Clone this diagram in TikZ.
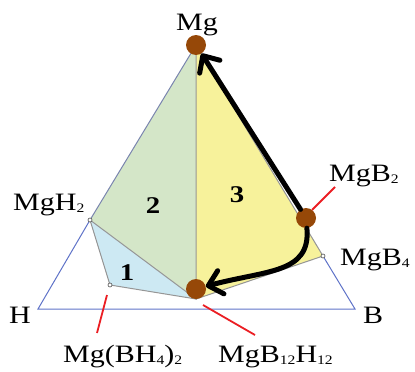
\documentclass[tikz,border=0pt]{standalone}
\usepackage{fontspec}
\setmainfont{Liberation Serif}
\usetikzlibrary{arrows.meta}
\definecolor{phgreen}{RGB}{212,230,200}
\definecolor{phblue}{RGB}{205,233,243}
\definecolor{phyellow}{RGB}{247,242,155}
\definecolor{dotbrown}{RGB}{150,72,8}
\definecolor{triblue}{RGB}{95,115,200}
\definecolor{seggray}{RGB}{150,150,150}
\definecolor{ldrred}{RGB}{235,30,35}
\newcommand{\sub}[1]{\raisebox{-0.2ex}{\fontsize{13}{13}\selectfont #1}}

\begin{document}
\begin{tikzpicture}[
  x=1pt, y=-1pt,
  lbl/.style={font=\fontsize{25}{27}\selectfont, inner sep=0pt, xscale=1.2},
  regnum/.style={font=\fontsize{24}{26}\selectfont\bfseries, inner sep=0pt, xscale=1.2},
  vx/.style={circle, draw=black!70, fill=white, inner sep=0pt, minimum size=4pt, line width=0.6pt},
  mdot/.style={circle, fill=dotbrown, inner sep=0pt, minimum size=20pt},
  seg/.style={seggray, line width=1pt},
  tri/.style={triblue, line width=1pt},
  ldr/.style={ldrred, line width=1.8pt},
  ar/.style={-{Straight Barb[length=13pt,width=24pt,round]}, line width=5pt, line cap=round}
]
\useasboundingbox (0,0) rectangle (415,372);

% Corners and phases
\coordinate (H) at (38,309);
\coordinate (B) at (355,309);
\coordinate (vmg) at (196,45);
\coordinate (vmgh) at (90,220);
\coordinate (vmgbh) at (110,285);
\coordinate (vb12) at (196,299);
\coordinate (vmgb4) at (323,256);

% Regions
\fill[phgreen] (vmg) -- (vmgh) -- (vb12) -- cycle;
\fill[phblue] (vmgh) -- (vmgbh) -- (vb12) -- cycle;
\fill[phyellow] (vmg) -- (vmgb4) -- (vb12) -- cycle;

% Edges
\draw[tri] (vmgh) -- (H) -- (B) -- (vmgb4);
\draw[seg, triblue!50!seggray] (vmg) -- (vmgh);
\draw[seg] (vmgh) -- (vb12) -- (vmg);
\draw[seg] (vmgh) -- (vmgbh) -- (vb12) -- (vmgb4) -- (vmg);

\node[vx] (pmgh) at (vmgh) {};
\node[vx] (pmgbh) at (vmgbh) {};
\node[vx] (pmgb4) at (vmgb4) {};

% Region numbers
\node[regnum, anchor=base] (n1) at (127,280) {1};
\node[regnum, anchor=base] (n2) at (153,213) {2};
\node[regnum, anchor=base] (n3) at (237,202) {3};

% Reaction path
\node[mdot] (mgdot) at (196,45) {};
\node[mdot] (mgbtwo) at (306,218) {};
\node[mdot] (mgbdot) at (196,289) {};
\draw[ar] (mgbtwo) -- (mgdot);
\draw[ar] (mgbtwo) .. controls (311,274) and (266,270) .. (mgbdot);

% Labels
\node[lbl, anchor=base] (lmg) at (197,30) {Mg};
\node[lbl, anchor=base west] (lmgh) at (13,210) {MgH\sub{2}};
\node[lbl, anchor=base west] (lh) at (9,323) {H};
\node[lbl, anchor=base west] (lb) at (363,323) {B};
\node[lbl, anchor=base west] (lmgb2) at (329,181) {MgB\sub{2}};
\node[lbl, anchor=base west] (lmgb4) at (340,265) {MgB\sub{4}};
\node[lbl, anchor=base west] (lmgbh) at (63,362) {Mg(BH\sub{4})\sub{2}};
\node[lbl, anchor=base west] (lb12) at (218,362) {MgB\sub{12}H\sub{12}};

% Leaders
\coordinate (a1) at (335,187);
\coordinate (a2) at (312,210);
\coordinate (b1) at (203,305);
\coordinate (b2) at (255,335);
\coordinate (c1) at (107,295);
\coordinate (c2) at (97,333);
\draw[ldr] (a1) -- (a2);
\draw[ldr] (b1) -- (b2);
\draw[ldr] (c1) -- (c2);
\end{tikzpicture}
\end{document}
